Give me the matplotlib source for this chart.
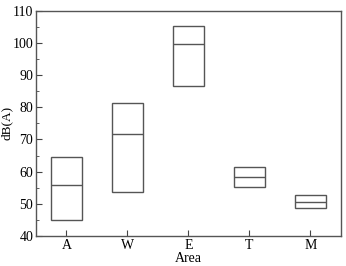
import numpy as np
import matplotlib.pyplot as plt
from matplotlib.ticker import MultipleLocator

areas = ['A', 'W', 'E', 'T', 'M']
low = [44.9, 53.6, 86.7, 55.1, 48.8]
median = [55.9, 71.8, 99.6, 58.4, 50.7]
high = [64.6, 81.5, 105.4, 61.5, 52.7]

plt.rcParams['font.family'] = ['Liberation Serif', 'DejaVu Serif']
plt.rcParams['font.size'] = 10

fig = plt.figure(figsize=(3.46, 2.66), dpi=100)
ax = fig.add_axes([0.104, 0.113, 0.881, 0.846])

pos = np.arange(1, len(areas) + 1)
heights = np.array(high) - np.array(low)
edge = '#555555'
ax.bar(pos, heights, bottom=low, width=0.5, fill=False, edgecolor=edge, linewidth=1.0)
ax.hlines(median, pos - 0.25, pos + 0.25, colors=edge, linewidth=1.0)

ax.set_xlim(0.5, 5.5)
ax.set_ylim(40, 110)
ax.set_xticks(pos)
ax.set_xticklabels(areas)
ax.yaxis.set_major_locator(MultipleLocator(10))
ax.yaxis.set_minor_locator(MultipleLocator(5))
ax.tick_params(direction='in', which='both', colors='#444444', labelcolor='black', pad=2)
ax.tick_params(which='major', length=4)
ax.tick_params(which='minor', length=2)
for s in ax.spines.values():
    s.set_color('#555555')
    s.set_linewidth(1.0)

ax.set_xlabel('Area', labelpad=0)
ax.set_ylabel('dB(A)', fontsize=9.5)
ax.yaxis.set_label_coords(-0.075, 0.5)

fig.savefig('out.png', dpi=100)
